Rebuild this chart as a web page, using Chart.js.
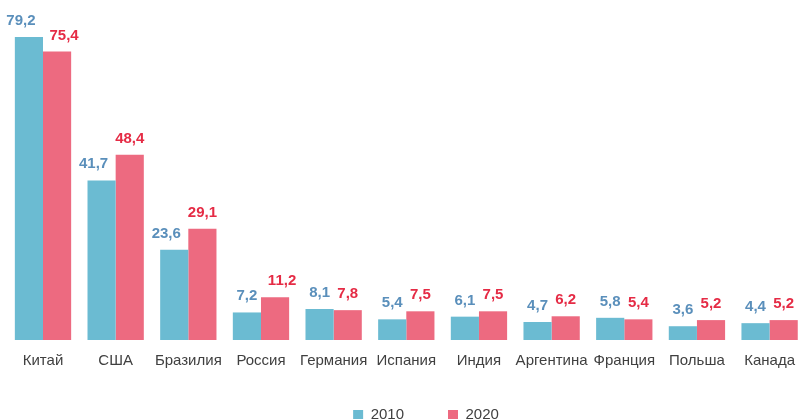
<!DOCTYPE html>
<html>
<head>
<meta charset="utf-8">
<script src="https://cdn.jsdelivr.net/npm/chart.js@4/dist/chart.umd.min.js"></script>
<style>
  html, body { margin: 0; padding: 0; background: #fff; overflow: hidden; }
  #wrap { width: 807px; height: 441px; position: relative; }
</style>
</head>
<body>
<div id="wrap"><canvas id="chart"></canvas></div>
<script>
const countries = ["Китай", "США", "Бразилия", "Россия", "Германия", "Испания", "Индия", "Аргентина", "Франция", "Польша", "Канада"];
const values2010 = [79.2, 41.7, 23.6, 7.2, 8.1, 5.4, 6.1, 4.7, 5.8, 3.6, 4.4];
const values2020 = [75.4, 48.4, 29.1, 11.2, 7.8, 7.5, 7.5, 6.2, 5.4, 5.2, 5.2];
const seriesNames = ["2010", "2020"];

const FONT = "'Liberation Sans', Arial, sans-serif";

// Values above each bar; wide labels are nudged outwards like in the original
const valueLabels = {
  id: "valueLabels",
  afterDatasetsDraw(chart) {
    const ctx = chart.ctx;
    ctx.save();
    ctx.font = "bold 15px " + FONT;
    ctx.textAlign = "center";
    ctx.textBaseline = "alphabetic";
    const blue = chart.getDatasetMeta(0).data;
    const red = chart.getDatasetMeta(1).data;
    chart.data.datasets.forEach((ds, i) => {
      const meta = chart.getDatasetMeta(i);
      ctx.fillStyle = ds.labelColor;
      meta.data.forEach((bar, j) => {
        const txt = ds.data[j].toFixed(1).replace(".", ",");
        const wide = ctx.measureText(txt).width > bar.width;
        let dx = 0;
        if (i === 0 && wide) dx = -8;
        if (i === 1 && wide && Math.abs(blue[j].y - red[j].y) < 16) dx = 7;
        ctx.fillText(txt, bar.x + dx, bar.y - 12);
      });
    });
    ctx.restore();
  },
};

// The legend sits a bit right of the plot centre and a little higher
const legendShift = {
  id: "legendShift",
  afterLayout(chart) {
    chart.legend.left += 15;
    chart.legend.right += 15;
    chart.legend.top -= 9;
    chart.legend.bottom -= 9;
  },
};

new Chart(document.getElementById("chart").getContext("2d"), {
  type: "bar",
  data: {
    labels: countries,
    datasets: [
      {
        label: seriesNames[0],
        data: values2010,
        backgroundColor: "#6bbbd2",
        labelColor: "#5a8fbb",
        clip: false,
      },
      {
        label: seriesNames[1],
        data: values2020,
        backgroundColor: "#ed6a80",
        labelColor: "#e52b45",
        clip: false,
      },
    ],
  },
  options: {
    responsive: true,
    maintainAspectRatio: false,
    animation: false,
    layout: { padding: { left: 43, right: 28, top: 0, bottom: 0 } },
    datasets: {
      bar: { categoryPercentage: 0.775, barPercentage: 1 },
    },
    scales: {
      x: {
        offset: false,
        grid: { display: false, drawTicks: false },
        border: { display: false },
        ticks: {
          color: "#404040",
          padding: 12,
          maxRotation: 0,
          autoSkip: false,
          font: { family: FONT, size: 15 },
        },
        afterFit(scale) {
          scale.height = 32;
        },
      },
      y: {
        display: false,
        min: 0,
        max: 88.87,
      },
    },
    plugins: {
      legend: {
        position: "bottom",
        labels: {
          boxWidth: 10,
          boxHeight: 9,
          padding: 44,
          color: "#404040",
          font: { family: FONT, size: 15 },
        },
      },
      tooltip: { enabled: false },
    },
  },
  plugins: [valueLabels, legendShift],
});
</script>
</body>
</html>
